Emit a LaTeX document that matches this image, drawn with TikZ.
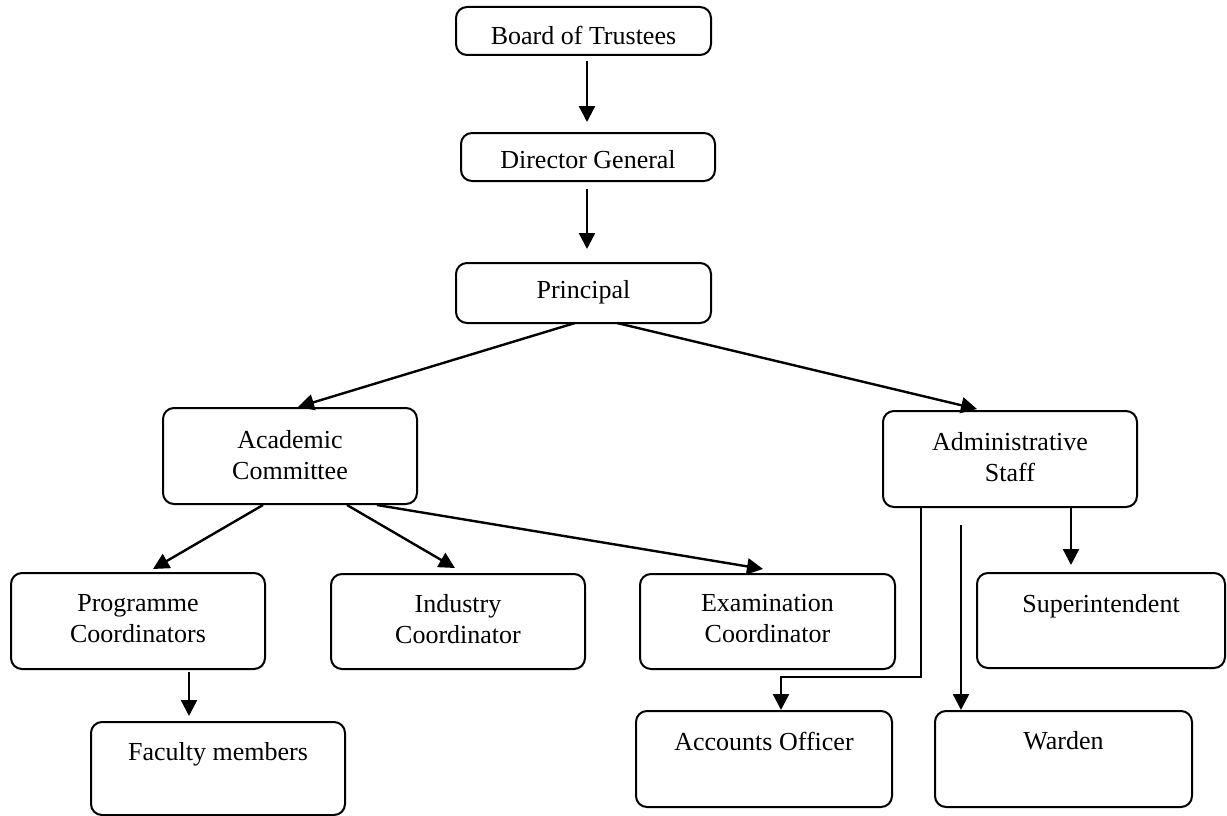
\documentclass[tikz,border=0pt]{standalone}
\usepackage{fontspec}
\setmainfont{Liberation Serif}
\usetikzlibrary{arrows.meta}
\begin{document}
\begin{tikzpicture}[x=1pt,y=-1pt,
  box/.style={draw, line width=2pt, rounded corners=11pt, outer sep=0pt, inner sep=0pt},
  lbl/.style={font=\fontsize{26}{31}\selectfont, align=center, inner sep=0pt},
  arr/.style={line width=2.4pt, -{Triangle[length=16pt,width=16pt]}}]
\useasboundingbox (0,0) rectangle (1227,816);
% boxes
\node[box, minimum width=255, minimum height=48] (bot) at (583.5,31) {};
\node[box, minimum width=254, minimum height=48] (dg) at (588,157) {};
\node[box, minimum width=255, minimum height=60] (pr) at (583.5,293) {};
\node[box, minimum width=254, minimum height=96] (ac) at (290,456) {};
\node[box, minimum width=254, minimum height=96] (ad) at (1010,459) {};
\node[box, minimum width=254, minimum height=96] (pc) at (138,621) {};
\node[box, minimum width=254, minimum height=95] (ic) at (458,621.5) {};
\node[box, minimum width=255, minimum height=95] (ec) at (767.5,621.5) {};
\node[box, minimum width=248, minimum height=95] (su) at (1101,620.5) {};
\node[box, minimum width=254, minimum height=93] (fm) at (218,768.5) {};
\node[box, minimum width=256, minimum height=96] (ao) at (764,759) {};
\node[box, minimum width=257, minimum height=96] (wa) at (1063.5,759) {};
% texts
\node[lbl] (bot-t) at (583.5,35) {Board of Trustees};
\node[lbl] (dg-t) at (588,160) {Director General};
\node[lbl] (pr-t) at (583.5,292) {Principal};
\node[lbl] (ac-t) at (290,455) {Academic\\Committee};
\node[lbl] (ad-t) at (1010,457) {Administrative\\Staff};
\node[lbl] (pc-t) at (138,619) {Programme\\Coordinators};
\node[lbl] (ic-t) at (458,619) {Industry\\Coordinator};
\node[lbl] (ec-t) at (767.5,619) {Examination\\Coordinator};
\node[lbl] (su-t) at (1101,606) {Superintendent};
\node[lbl] (fm-t) at (218,754) {Faculty members};
\node[lbl] (ao-t) at (764,741) {Accounts Officer};
\node[lbl] (wa-t) at (1063.5,741) {Warden};
% connectors
\draw[arr] ([shift={(3.5,6)}]bot.south) -- ([shift={(-1,-11)}]dg.north);
\draw[arr] ([shift={(-1,8)}]dg.south) -- ([shift={(3.5,-14)}]pr.north);
\draw[arr] ([shift={(-8.5,0)}]pr.south) -- ([shift={(8,-1)}]ac.north);
\draw[arr] ([shift={(33.5,0)}]pr.south) -- ([shift={(-33,-2)}]ad.north);
\draw[arr] ([shift={(-27,1)}]ac.south) -- ([shift={(15,-4)}]pc.north);
\draw[arr] ([shift={(57,1)}]ac.south) -- ([shift={(-3,-6)}]ic.north);
\draw[arr] ([shift={(87,1)}]ac.south) -- ([shift={(-4.5,-5)}]ec.north);
\draw[arr] ([shift={(51,3)}]pc.south) -- ([shift={(-29,-6)}]fm.north);
\draw[arr] ([shift={(61,0)}]ad.south) -- ([shift={(-30,-8)}]su.north);
\draw[arr] ([shift={(-49,18)}]ad.south) -- ([shift={(-102.5,-1)}]wa.north);
\draw[arr] ([shift={(-89,0)}]ad.south) -- ++(0,170) -| ([shift={(17,-1)}]ao.north);
\end{tikzpicture}
\end{document}
